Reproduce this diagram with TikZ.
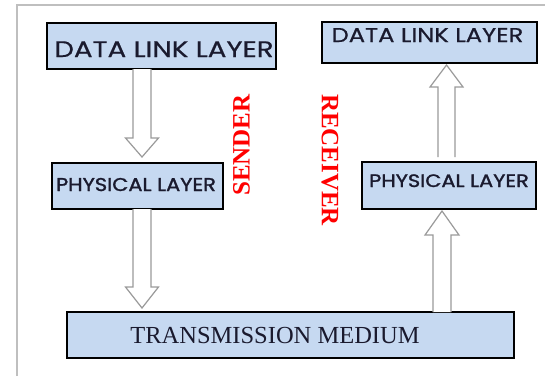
\documentclass[tikz,border=0pt]{standalone}
\usepackage{fontspec}
\newfontfamily\gothic[FakeBold=0.6]{Poppins}
\newfontfamily\gothicb[FakeBold=1.4]{Poppins}
\newfontfamily\tnr{Liberation Serif}
\definecolor{boxblue}{HTML}{C6D9F1}
\definecolor{arrgray}{HTML}{9A9A9A}
\definecolor{ink}{HTML}{1A1A2E}
\newcommand{\blockarrow}[6]{%
  \draw[blockarr] ({#1-#2},#4) -- ({#1-#2},#5) -- ({#1-#3},#5) -- (#1,#6) -- ({#1+#3},#5) -- ({#1+#2},#5) -- ({#1+#2},#4);}
\tikzset{
  layerbox/.style={draw=black, line width=2pt, fill=boxblue, inner sep=0pt},
  blockarr/.style={draw=arrgray, line width=1.2pt, fill=white, line join=miter},
  lbl/.style={anchor=base, inner sep=0pt, text=ink},
  side/.style={inner sep=0pt, text=red, font=\tnr\bfseries\fontsize{25}{25}\selectfont},
}
\begin{document}
\begin{tikzpicture}[x=1pt,y=-1pt]
\useasboundingbox (0,0) rectangle (545,376);
\fill[white] (0,0) rectangle (545,376);
\draw[black!25, line width=1.2pt] (17,376) -- (17,5) -- (545,5);
% boxes
\node[layerbox, minimum width=229pt, minimum height=46pt] (dls) at (161.5,46) {};
\node[layerbox, minimum width=171pt, minimum height=46pt] (phs) at (137.5,186) {};
\node[layerbox, minimum width=215pt, minimum height=41pt] (dlr) at (429.5,42.5) {};
\node[layerbox, minimum width=174pt, minimum height=47pt] (phr) at (449,185.5) {};
\node[layerbox, minimum width=447pt, minimum height=46pt] (tm) at (290.5,335) {};
% texts
\node[lbl, font=\gothic\fontsize{22.5}{22.5}\selectfont] (dlsT) at (164,57) {\scalebox{1.23}[1]{DATA LINK LAYER}};
\node[lbl, font=\gothic\fontsize{20}{20}\selectfont] (dlrT) at (427.5,42) {\scalebox{1.21}[1]{DATA LINK LAYER}};
\node[lbl, font=\gothicb\fontsize{18.5}{18.5}\selectfont] (phsT) at (136,191) {\scalebox{1.13}[1]{PHYSICAL LAYER}};
\node[lbl, font=\gothicb\fontsize{18}{18}\selectfont] (phrT) at (449,187) {\scalebox{1.16}[1]{PHYSICAL LAYER}};
\node[lbl, font=\tnr\fontsize{24.5}{24.5}\selectfont] (tmT) at (275,343) {TRANSMISSION MEDIUM};
\node[side, rotate=90] (snd) at (241.5,145) {SENDER};
\node[side, rotate=-90] (rcv) at (330,160) {RECEIVER};
% arrows
\blockarrow{142}{9}{16.5}{69}{138}{157}
\blockarrow{142}{9}{16.5}{209}{287}{308}
\blockarrow{446.5}{8.5}{16.5}{157}{87}{65}
\blockarrow{442}{9}{17}{312}{235}{211}
\end{tikzpicture}
\end{document}
